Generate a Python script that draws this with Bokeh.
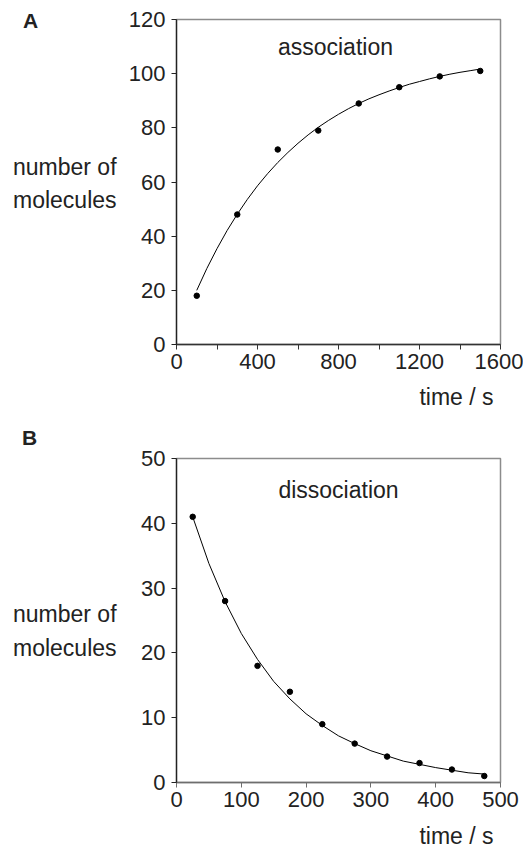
from bokeh.plotting import figure
from bokeh.models import Range1d, FixedTicker, Label, Title, Div
from bokeh.layouts import column, row
from bokeh.embed import file_html
from bokeh.resources import INLINE

# ---- data ----
assoc_t = [100, 300, 500, 700, 900, 1100, 1300, 1500]
assoc_n = [18, 48, 72, 79, 89, 95, 99, 101]
assoc_fit_t = [100, 150, 200, 250, 300, 350, 400, 450, 500, 550, 600, 650, 700, 750,
               800, 850, 900, 950, 1000, 1050, 1100, 1150, 1200, 1250, 1300, 1350,
               1400, 1450, 1500]
assoc_fit_n = [20.0, 28.1, 35.4, 42.1, 48.1, 53.6, 58.6, 63.1, 67.2, 70.9, 74.3, 77.4,
               80.2, 82.7, 85.0, 87.1, 89.0, 90.7, 92.2, 93.6, 94.9, 96.1, 97.1, 98.1,
               99.0, 99.8, 100.5, 101.1, 101.7]

dissoc_t = [25, 75, 125, 175, 225, 275, 325, 375, 425, 475]
dissoc_n = [41, 28, 18, 14, 9, 6, 4, 3, 2, 1]
dissoc_fit_t = [25, 50, 75, 100, 125, 150, 175, 200, 225, 250, 275, 300, 325, 350,
                375, 400, 425, 450, 475]
dissoc_fit_n = [41.0, 33.8, 27.9, 23.0, 19.0, 15.6, 12.9, 10.6, 8.8, 7.2, 6.0, 4.9,
                4.1, 3.3, 2.8, 2.3, 1.9, 1.5, 1.3]

a_xticks = [0, 400, 800, 1200, 1600]
a_xminor = [200, 600, 1000, 1400]
a_yticks = [0, 20, 40, 60, 80, 100, 120]
b_xticks = [0, 100, 200, 300, 400, 500]
b_yticks = [0, 10, 20, 30, 40, 50]

FONT = "Liberation Sans"
TXT = "#222222"
LEFT_W = 124
MAIN_W = 523 - LEFT_W


def panel(height, btop, bbottom, xmax, ymax, xticks, xminor, yticks, bottom_color):
    p = figure(width=MAIN_W, height=height, x_range=Range1d(0, xmax), y_range=Range1d(0, ymax),
               output_backend="svg", toolbar_location=None,
               min_border_left=52, min_border_right=MAIN_W - 52 - 324,
               min_border_top=btop, min_border_bottom=bbottom)
    p.grid.visible = False
    p.outline_line_color = "#8c8c8c"
    p.outline_line_width = 1.5
    p.background_fill_color = "white"
    p.border_fill_color = "white"

    xa = p.xaxis[0]
    xa.ticker = FixedTicker(ticks=xticks, minor_ticks=xminor)
    xa.axis_line_color = bottom_color
    xa.axis_line_width = 1.3
    xa.major_tick_line_color = bottom_color
    xa.minor_tick_line_color = bottom_color
    xa.major_tick_in = 0
    xa.major_tick_out = 5
    xa.minor_tick_in = 0
    xa.minor_tick_out = 5
    xa.major_label_standoff = 4
    xa.major_label_text_font = FONT
    xa.major_label_text_font_size = "22px"
    xa.major_label_text_color = TXT

    ya = p.yaxis[0]
    ya.ticker = FixedTicker(ticks=yticks)
    ya.axis_line_color = "#222222"
    ya.axis_line_width = 1.3
    ya.major_tick_line_color = "#222222"
    ya.minor_tick_line_color = None
    ya.major_tick_in = 0
    ya.major_tick_out = 5
    ya.major_label_standoff = 6
    ya.major_label_text_font = FONT
    ya.major_label_text_font_size = "22px"
    ya.major_label_text_color = TXT
    return p


def span(text, left, baseline, size, bold=False):
    # line-height 1: baseline sits ~0.8465 em below the box top for Liberation Sans
    top = baseline - 0.8465 * size
    weight = "bold" if bold else "normal"
    return (f'<span style="position:absolute;left:{left}px;top:{top:.1f}px;'
            f'font-size:{size}px;line-height:1;font-weight:{weight};white-space:nowrap;">'
            f'{text}</span>')


def side(height, letter, letter_x, letter_base, line1_base, line2_base):
    html = (f'<div style="position:relative;width:{LEFT_W}px;height:{height}px;'
            f'font-family:\'{FONT}\';color:{TXT};">'
            + span(letter, letter_x, letter_base, 21, bold=True)
            + span("number of", 13, line1_base, 23)
            + span("molecules", 13, line2_base, 23)
            + '</div>')
    return Div(text=html, width=LEFT_W, height=height, margin=0)


def lab(p, text, x, y, align="left"):
    p.add_layout(Label(x=x, y=y, text=text, text_align=align,
                       text_baseline="alphabetic", text_font=FONT, text_font_size="23px",
                       text_color=TXT))


def xtitle(p, standoff):
    p.add_layout(Title(text="time / s", align="right", offset=7, standoff=standoff,
                       text_font=FONT, text_font_size="23px", text_font_style="normal",
                       text_color=TXT), "below")


# ---- Panel A ----
HA = 420
pa = panel(HA, 19, HA - 19 - 325, 1600, 120, a_xticks, a_xminor, a_yticks, "#333333")
pa.line(assoc_fit_t, assoc_fit_n, line_color="black", line_width=1)
pa.scatter(assoc_t, assoc_n, size=5.5, fill_color="black", line_color="black")
lab(pa, "association", 785, 109.9, align="center")
xtitle(pa, 21)
sa = side(HA, "A", 23, 28, 175, 208)

# ---- Panel B ----
HB = 859 - HA
pb = panel(HB, 38, HB - 38 - 324, 500, 50, b_xticks, [], b_yticks, "#6e6e6e")
pb.line(dissoc_fit_t, dissoc_fit_n, line_color="black", line_width=1)
pb.scatter(dissoc_t, dissoc_n, size=5.5, fill_color="black", line_color="black")
lab(pb, "dissociation", 250, 45.1, align="center")
xtitle(pb, 22)
sb = side(HB, "B", 22, 25, 202.7, 236.7)

layout = column(row(sa, pa), row(sb, pb))
open("out.html", "w").write(file_html(layout, INLINE))
